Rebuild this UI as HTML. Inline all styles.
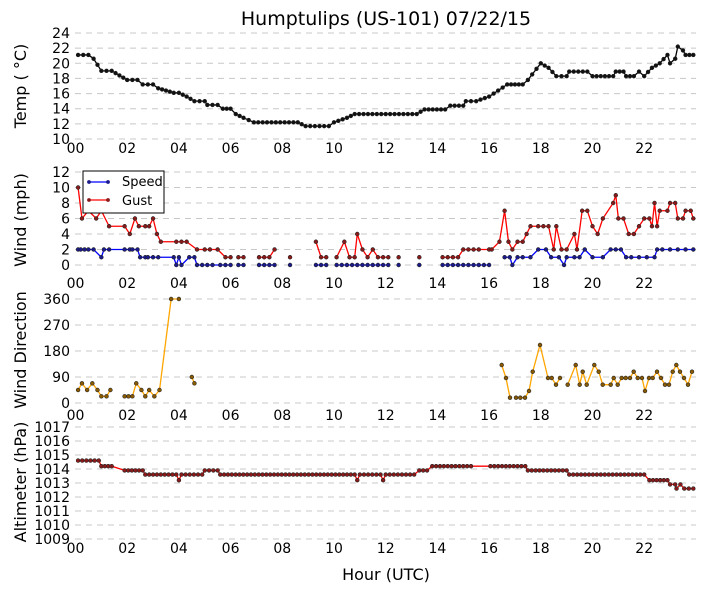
<!DOCTYPE html>
<html><head><meta charset="utf-8"><style>
body{margin:0;background:#fff;}
svg{display:block;font-family:"DejaVu Sans","Liberation Sans",sans-serif;}
.t{font-size:14px;fill:#000}
.l{font-size:16px;fill:#000}
.g{stroke:#c8c8c8;stroke-width:1;stroke-dasharray:6,5}
</style></head><body>
<svg id="s" width="705" height="594" xmlns="http://www.w3.org/2000/svg">
<rect width="705" height="594" fill="#fff"/>
<text x="386" y="25" text-anchor="middle" style="font-size:19px">Humptulips (US-101) 07/22/15</text>
<text x="386" y="580" text-anchor="middle" class="l">Hour (UTC)</text>
<text transform="translate(26,86) rotate(-90)" text-anchor="middle" class="l">Temp ( $^\circ$C)</text>
</svg>
<script>
var s=document.getElementById('s'),NS='http://www.w3.org/2000/svg';
function el(n,a,t){var e=document.createElementNS(NS,n);for(var k in a)e.setAttribute(k,a[k]);if(t!=null)e.textContent=t;s.appendChild(e);return e;}
// fix temp label
s.querySelectorAll('text')[2].textContent='Temp ( \u00B0C)';
var X0=75.5,XW=25.85;function hx(h){return X0+h*XW;}
function panel(ymin,ymax,step,ptop,pbot,xlabY,ylab,labcy){
 var f=function(v){return pbot-(v-ymin)/(ymax-ymin)*(pbot-ptop);};
 for(var v=ymin;v<=ymax+1e-9;v+=step){var y=f(v);el('line',{x1:75,x2:696,y1:y,y2:y,class:'g'});el('text',{x:70,y:y+5,'text-anchor':'end',class:'t'},String(v));}
 for(var h=0;h<24;h+=2){el('text',{x:hx(h),y:xlabY,'text-anchor':'middle',class:'t'},(h<10?'0':'')+h);}
 el('text',{transform:'translate(26,'+labcy+') rotate(-90)','text-anchor':'middle',class:'l'},ylab);
 return f;}
function series(segs,f,col,dot,pix){segs.forEach(function(seg){var pts=seg.map(function(p){return pix?(p[0]+','+p[1]):(hx(p[0])+','+f(p[1]));});
 el('polyline',{points:pts.join(' '),fill:'none',stroke:col,'stroke-width':1.3});
 seg.forEach(function(p){var x=pix?p[0]:hx(p[0]),y=pix?p[1]:f(p[1]);el('circle',{cx:x,cy:y,r:1.9,fill:dot,stroke:'#222','stroke-width':0.6});});});}
function dense(kp,dt){var out=[];for(var i=0;i<kp.length-1;i++){var a=kp[i],b=kp[i+1];var n=Math.max(1,Math.round((b[0]-a[0])/dt));for(var j=0;j<n;j++){var t=j/n;out.push([a[0]+(b[0]-a[0])*t,a[1]+(b[1]-a[1])*t]);}}out.push(kp[kp.length-1]);return out;}
// Temp
var fT=panel(10,24,2,33,139,153,'',0);
var tk=[[0.1,21.1],[0.5,21.1],[0.7,20.6],[1,19],[1.4,19],[2,17.8],[2.4,17.8],[2.6,17.2],[3,17.2],[3.2,16.7],[3.8,16.1],[4,16.1],[4.3,15.6],[4.6,15],[5,15],[5.1,14.5],[5.5,14.5],[5.7,14],[6,14],[6.2,13.3],[6.5,12.8],[6.9,12.2],[8.6,12.2],[8.9,11.7],[9.8,11.7],[10,12.2],[10.5,12.8],[10.8,13.3],[13.2,13.3],[13.5,13.9],[14.3,13.9],[14.5,14.4],[15,14.4],[15.1,15],[15.5,15],[16,15.6],[16.7,17.2],[17.3,17.2],[17.5,17.8],[18,20],[18.3,19.4],[18.6,18.3],[19,18.3],[19.1,18.9],[19.8,18.9],[20,18.3],[20.8,18.3],[20.9,18.9],[21.2,18.9],[21.3,18.3],[21.6,18.3],[21.8,18.9],[22,18.3],[22.3,19.4],[22.6,20],[22.9,21.1],[23,20],[23.2,20.6],[23.3,22.2],[23.5,21.7],[23.6,21.1],[23.9,21.1]];
series([dense(tk,0.17)],fT,'#000','#111');
// Wind
var fW=panel(0,12,2,172,265,288,'Wind (mph)',220);
var sp=[[[0.1,2],[0.2,2],[0.35,2],[0.5,2],[0.7,2],[1,1],[1.1,2],[1.3,2],[1.9,2],[2.1,2],[2.2,2],[2.4,2],[2.5,1],[2.7,1],[2.8,1],[3,1],[3.2,1],[3.8,1],[3.9,0],[4.0,1],[4.1,0],[4.4,1],[4.6,1],[4.7,0],[4.9,0],[5.1,0],[5.3,0],[5.6,0],[5.8,0],[6.0,0]],[[6.3,0],[6.5,0]],[[7.1,0],[7.3,0],[7.5,0],[7.7,0]],[[8.3,0]],[[9.3,0],[9.5,0],[9.7,0]],[[10.1,0],[10.3,0],[10.5,0],[10.7,0],[10.9,0],[11.1,0],[11.3,0],[11.5,0],[11.7,0],[11.9,0],[12.1,0]],[[12.5,0]],[[13.3,0]],[[14.2,0],[14.4,0],[14.6,0],[14.8,0],[15,0],[15.2,0],[15.4,0],[15.6,0],[15.8,0],[16,0]],[[16.6,1],[16.8,1],[16.9,0],[17.1,1],[17.3,1],[17.6,1],[17.9,2],[18.2,2],[18.4,1],[18.7,1],[18.9,0],[19,1],[19.3,1],[19.5,1],[19.7,2],[20,1],[20.4,1],[20.7,2],[20.9,2],[21.1,2],[21.3,1],[21.5,1],[21.8,1],[22.1,1],[22.4,1],[22.5,2],[22.7,2],[23,2],[23.3,2],[23.6,2],[23.9,2]]];
var gu=[[[0.1,10],[0.25,6],[0.5,7],[0.8,6],[1.0,7],[1.3,5],[1.9,5],[2.1,4],[2.3,6],[2.45,5],[2.7,5],[2.85,5],[3.0,6],[3.15,4],[3.3,3],[3.9,3],[4.1,3],[4.3,3],[4.7,2],[5.0,2],[5.2,2],[5.5,2],[5.8,1],[6.0,1]],[[6.3,1],[6.5,1]],[[7.1,1],[7.3,1],[7.5,1],[7.7,2]],[[8.3,1]],[[9.3,3],[9.5,1],[9.7,1]],[[10.1,1],[10.4,3],[10.6,1],[10.8,1],[10.9,4],[11.1,2],[11.3,1],[11.5,2],[11.7,1],[11.9,1],[12.1,1]],[[12.5,1]],[[13.3,1]],[[14.2,1],[14.4,1],[14.6,1],[14.8,1],[15,2],[15.2,2],[15.4,2],[15.6,2],[16,2],[16.1,2],[16.4,3],[16.6,7],[16.75,3],[16.9,2],[17.1,3],[17.3,3],[17.45,4],[17.6,5],[17.9,5],[18.1,5],[18.3,5],[18.5,2],[18.6,5],[18.8,2],[19,2],[19.3,4],[19.4,2],[19.6,7],[19.8,7],[20,5],[20.2,4],[20.4,6],[20.8,8],[20.9,9],[21,6],[21.2,6],[21.4,4],[21.6,4],[21.8,5],[22,6],[22.2,6],[22.3,5],[22.4,8],[22.5,5],[22.6,7],[22.9,7],[23,8],[23.2,8],[23.3,6],[23.5,6],[23.6,7],[23.8,7],[23.9,6]]];
series(sp,fW,'#0000ff','#1a1a8a');
series(gu,fW,'#ff0000','#8a1a1a');
// legend
el('rect',{x:83,y:171,width:81,height:42,fill:'#fff',stroke:'#000','stroke-width':1});
el('line',{x1:89,x2:108,y1:182,y2:182,stroke:'#0000ff','stroke-width':1.3});el('circle',{cx:89,cy:182,r:1.9,fill:'#1a1a8a'});el('circle',{cx:108,cy:182,r:1.9,fill:'#1a1a8a'});
el('line',{x1:89,x2:108,y1:200,y2:200,stroke:'#ff0000','stroke-width':1.3});el('circle',{cx:89,cy:200,r:1.9,fill:'#8a1a1a'});el('circle',{cx:108,cy:200,r:1.9,fill:'#8a1a1a'});
el('text',{x:122,y:186,style:'font-size:13px'},'Speed');el('text',{x:122,y:205,style:'font-size:13px'},'Gust');
// Direction
var fD=panel(0,360,90,299,403,420,'Wind Direction',350);
var d1=[[[0.1,45],[0.25,68],[0.45,45],[0.65,68],[0.85,45],[1.0,23],[1.2,23],[1.35,45]],[[1.9,23],[2.05,23],[2.2,23],[2.35,68],[2.55,45],[2.7,23],[2.85,45],[3.05,23],[3.25,45],[3.7,360],[4.0,360]],[[4.5,90],[4.6,68]]];
series(d1,fD,'#ffa500','#8a5a00');
function py(v){return v/3+280;}
var lx1=[501.7,506,510],ly1=[255,294,353];
var lx2=[516,520.3,525,529,532.7,540,548,551.7,556,560],ly2=[353,353,353,333,275,195,294,294,314,294];
var lx3=[567.7,575.7,579.7,582.7,586.7,594.3,598.7,602.7,610.7,613.7,617.7,621.7,625.7,630,633.7,637.7,642,645,649,652.7,657,661,665,669,672.7,676.3,680,684,688,692],ly3=[314,255,314,275,314,255,275,314,314,294,314,294,294,294,275,294,294,333,294,294,275,294,314,314,275,255,275,294,314,275];
function mk(a,b){return a.map(function(x,i){return [x,py(b[i])];});}
series([mk(lx1,ly1),mk(lx2,ly2),mk(lx3,ly3)],null,'#ffa500','#8a5a00',true);
// Altimeter
var fA=panel(1009,1017,1,427,539,553,'Altimeter (hPa)',482);
var ak=[[0.1,1014.6],[0.9,1014.6],[1.0,1014.2],[1.4,1014.2],[1.9,1013.9],[2.6,1013.9],[2.7,1013.6],[3.9,1013.6],[4.0,1013.2],[4.1,1013.6],[4.9,1013.6],[5.0,1013.9],[5.5,1013.9],[5.6,1013.6],[10.8,1013.6],[10.9,1013.2],[11.0,1013.6],[11.8,1013.6],[11.9,1013.2],[12.0,1013.6],[13.1,1013.6],[13.3,1013.9],[13.6,1013.9],[13.8,1014.2],[17.4,1014.2],[17.5,1013.9],[19.0,1013.9],[19.1,1013.6],[22.0,1013.6],[22.2,1013.2],[22.9,1013.2],[23.0,1012.9],[23.2,1012.9],[23.25,1012.6],[23.4,1012.9],[23.55,1012.6],[23.9,1012.6]];
var ad=dense(ak,0.15).filter(function(p){return !(p[0]>15.3&&p[0]<16.0)&&!(p[0]>1.45&&p[0]<1.85);});
series([ad],fA,'#ff0000','#8a1a1a');
</script>
</body></html>
